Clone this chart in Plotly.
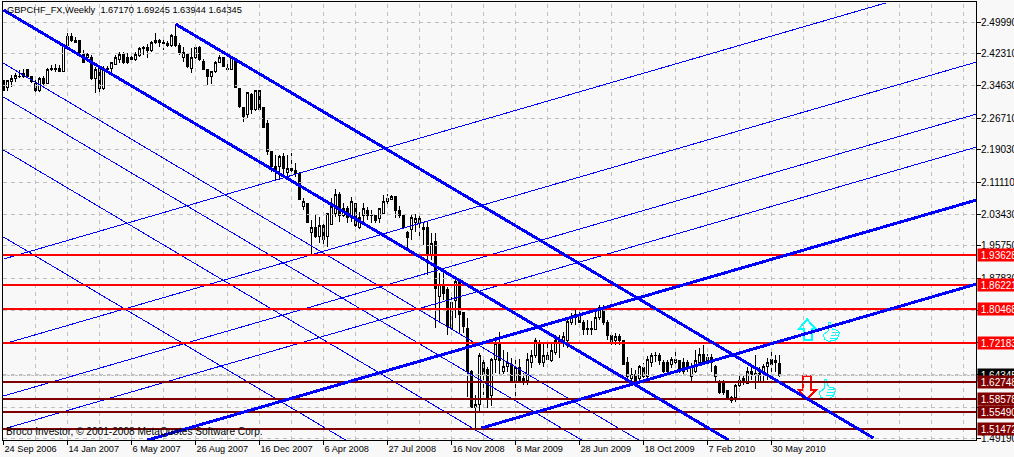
import plotly.graph_objects as go

title_text = "GBPCHF_FX,Weekly  1.67170 1.69245 1.63944 1.64345"
footer_text = "Broco Investor, © 2001-2008 MetaQuotes Software Corp."

opens = [
2.359,2.342,2.355,2.362,2.369,2.367,2.384,2.367,2.352,2.333,
2.362,2.352,2.384,2.388,2.388,2.381,2.444,2.464,2.456,2.454,
2.420,2.413,2.415,2.362,2.388,2.338,2.388,2.388,2.398,2.408,
2.420,2.413,2.415,2.410,2.418,2.437,2.437,2.430,2.456,2.454,
2.451,2.449,2.442,2.466,2.442,2.413,2.422,2.388,2.415,2.437,
2.405,2.384,2.367,2.379,2.403,2.413,2.388,2.386,2.405,2.340,
2.292,2.275,2.325,2.287,2.333,2.292,2.253,2.185,2.151,2.151,
2.173,2.136,2.146,2.141,2.134,2.054,2.059,1.991,2.003,1.979,
2.006,1.979,2.010,2.035,2.083,2.032,2.047,2.027,2.059,2.001,
2.032,2.042,2.032,2.032,2.023,2.037,2.064,2.071,2.076,2.044,
2.032,1.989,1.998,2.013,2.023,2.001,2.003,1.935,1.967,1.836,
1.860,1.851,1.758,1.826,1.870,1.797,1.758,1.652,1.565,1.572,
1.676,1.657,1.594,1.681,1.720,1.652,1.664,1.671,1.632,1.662,
1.635,1.632,1.676,1.691,1.722,1.674,1.693,1.679,1.700,1.725,
1.725,1.729,1.773,1.783,1.792,1.771,1.758,1.758,1.756,1.785,
1.807,1.773,1.741,1.727,1.737,1.727,1.674,1.635,1.647,1.635,
1.662,1.642,1.676,1.693,1.691,1.676,1.674,1.669,1.676,1.679,
1.676,1.674,1.640,1.654,1.674,1.695,1.688,1.688,1.664,1.630,
1.630,1.606,1.591,1.589,1.618,1.635,1.625,1.652,1.649,1.630,
1.649,1.664,1.681,1.679,1.6717]
highs = [
2.359,2.359,2.371,2.376,2.384,2.386,2.386,2.369,2.364,2.367,
2.369,2.388,2.396,2.398,2.396,2.447,2.473,2.473,2.464,2.456,
2.432,2.425,2.420,2.391,2.393,2.393,2.393,2.403,2.420,2.427,
2.427,2.425,2.427,2.427,2.439,2.442,2.447,2.454,2.473,2.459,
2.459,2.454,2.471,2.493,2.449,2.439,2.425,2.437,2.439,2.442,
2.410,2.384,2.379,2.405,2.420,2.415,2.403,2.418,2.408,2.340,
2.294,2.330,2.328,2.335,2.335,2.292,2.262,2.185,2.178,2.178,
2.183,2.178,2.183,2.158,2.136,2.073,2.061,2.020,2.032,2.027,
2.015,2.037,2.073,2.095,2.088,2.061,2.054,2.076,2.059,2.040,
2.061,2.052,2.044,2.032,2.049,2.081,2.083,2.081,2.078,2.054,
2.035,1.993,2.032,2.035,2.032,2.015,2.015,1.989,1.989,1.892,
1.892,1.858,1.834,1.875,1.875,1.797,1.783,1.657,1.596,1.698,
1.686,1.664,1.686,1.737,1.749,1.705,1.700,1.686,1.683,1.683,
1.649,1.698,1.705,1.734,1.729,1.725,1.725,1.725,1.741,1.741,
1.749,1.778,1.795,1.807,1.807,1.778,1.778,1.775,1.802,1.814,
1.814,1.778,1.741,1.746,1.744,1.729,1.688,1.662,1.657,1.669,
1.674,1.691,1.698,1.700,1.698,1.681,1.681,1.688,1.705,1.681,
1.686,1.681,1.674,1.705,1.710,1.717,1.695,1.695,1.669,1.632,
1.632,1.606,1.594,1.623,1.649,1.645,1.664,1.669,1.693,1.664,
1.671,1.686,1.708,1.693,1.69245]
lows = [
2.333,2.333,2.342,2.355,2.364,2.364,2.367,2.352,2.330,2.330,
2.345,2.352,2.381,2.379,2.379,2.379,2.442,2.451,2.449,2.425,
2.401,2.408,2.359,2.328,2.328,2.335,2.379,2.379,2.396,2.401,
2.398,2.398,2.405,2.405,2.415,2.420,2.413,2.427,2.447,2.439,
2.432,2.439,2.439,2.439,2.420,2.403,2.388,2.376,2.410,2.405,
2.384,2.347,2.350,2.376,2.401,2.391,2.381,2.384,2.342,2.292,
2.258,2.267,2.277,2.284,2.284,2.243,2.178,2.136,2.117,2.117,
2.122,2.122,2.129,2.124,2.069,2.044,2.013,1.938,1.977,1.964,
1.955,1.955,2.008,2.027,2.015,2.027,2.013,2.015,2.003,1.998,
2.015,2.020,2.013,2.013,2.013,2.035,2.052,2.069,2.025,2.025,
1.998,1.952,1.972,1.991,1.979,1.960,1.887,1.923,1.758,1.773,
1.826,1.741,1.754,1.783,1.746,1.746,1.591,1.565,1.516,1.553,
1.596,1.565,1.570,1.649,1.645,1.647,1.652,1.628,1.589,1.625,
1.620,1.620,1.662,1.686,1.669,1.664,1.681,1.676,1.693,1.686,
1.712,1.710,1.766,1.766,1.771,1.741,1.741,1.741,1.754,1.778,
1.766,1.729,1.717,1.717,1.717,1.669,1.635,1.628,1.623,1.630,
1.637,1.637,1.664,1.676,1.669,1.649,1.645,1.662,1.666,1.649,
1.647,1.652,1.628,1.649,1.669,1.669,1.662,1.652,1.630,1.599,
1.596,1.584,1.577,1.579,1.615,1.620,1.623,1.632,1.611,1.628,
1.625,1.632,1.640,1.652,1.63944]
closes = [
2.335,2.357,2.362,2.371,2.367,2.376,2.367,2.355,2.333,2.362,
2.352,2.384,2.388,2.384,2.381,2.442,2.464,2.456,2.451,2.427,
2.403,2.422,2.362,2.386,2.340,2.388,2.384,2.401,2.415,2.422,
2.403,2.401,2.410,2.422,2.435,2.435,2.432,2.451,2.451,2.451,
2.447,2.442,2.468,2.442,2.427,2.425,2.391,2.415,2.437,2.408,
2.386,2.367,2.379,2.403,2.413,2.393,2.384,2.413,2.342,2.294,
2.270,2.328,2.287,2.333,2.287,2.245,2.185,2.149,2.141,2.175,
2.146,2.146,2.141,2.132,2.069,2.064,2.015,2.001,1.981,2.006,
1.972,2.035,2.052,2.083,2.032,2.049,2.027,2.066,2.006,2.027,
2.047,2.030,2.030,2.018,2.047,2.064,2.073,2.078,2.042,2.032,
2.003,1.977,2.027,2.025,2.013,1.998,1.940,1.964,1.855,1.863,
1.841,1.761,1.821,1.870,1.792,1.761,1.652,1.565,1.572,1.691,
1.645,1.591,1.681,1.720,1.679,1.664,1.676,1.630,1.662,1.632,
1.632,1.681,1.693,1.727,1.674,1.691,1.683,1.703,1.727,1.729,
1.739,1.775,1.783,1.792,1.773,1.754,1.754,1.754,1.785,1.807,
1.773,1.741,1.725,1.739,1.727,1.671,1.640,1.647,1.632,1.666,
1.642,1.683,1.691,1.691,1.679,1.654,1.654,1.681,1.683,1.659,
1.654,1.662,1.666,1.679,1.695,1.674,1.674,1.674,1.640,1.603,
1.603,1.589,1.584,1.620,1.632,1.628,1.652,1.645,1.645,1.649,
1.664,1.676,1.671,1.674,1.64345]

bars = list(range(len(closes)))

date_tick_bars = [0,16,32,48,64,80,96,112,128,144,160,176,192]
date_tick_labels = ["24 Sep 2006","14 Jan 2007","6 May 2007","26 Aug 2007","16 Dec 2007",
                    "6 Apr 2008","27 Jul 2008","16 Nov 2008","8 Mar 2009","28 Jun 2009",
                    "18 Oct 2009","7 Feb 2010","30 May 2010"]
grid_bars = [8,16,24,32,40,48,56,64,72,80,88,96,104,112,120,128,136,144,152,160,168,176,184,192,200,208,216,224,232,240]
price_ticks = [2.4999,2.4231,2.3463,2.2671,2.1903,2.1111,2.0343,1.9575,1.8783,
               1.8015,1.7223,1.6455,1.5663,1.4919]
price_tick_labels = ["%.5f" % v for v in price_ticks]

red_levels = [1.93628,1.86221,1.80468,1.72183]
maroon_levels = [1.62748,1.58578,1.55490,1.51472]
last_price = 1.64345

thick_channel = [
    ([0,181.25],[2.529,1.4871]),
    ([43,217.5],[2.495,1.4919]),
    ([36,243.25],[1.4871,2.0686]),
    ([119.5,243.25],[1.5161,1.8651]),
]
thin_channel = [
    ([0,220.5],[1.9256,2.546]),
    ([0,243.25],[1.7197,2.403]),
    ([0,243.25],[1.5937,2.277]),
    ([0,243.25],[1.5137,2.197]),
    ([0,158.75],[2.3999,1.4871]),
    ([0,144.5],[2.3182,1.4871]),
    ([0,122.25],[2.1898,1.4871]),
    ([0,85.5],[1.9790,1.4871]),
]

BG = "#F8F8F8"
BLUE = "#0000FF"
FONT = "Liberation Sans"
X_RANGE = [-0.125, 243.125]
Y_RANGE = [1.4871, 2.5484]
GRID = dict(color="#C0C0C0", width=1, dash="4px,4px")

fig = go.Figure()

# Dashed grid: every 8 bars across, at every price tick down.
for b in grid_bars:
    fig.add_trace(go.Scatter(x=[b, b], y=Y_RANGE, mode="lines", line=GRID, hoverinfo="skip"))
for p in price_ticks:
    fig.add_trace(go.Scatter(x=X_RANGE, y=[p, p], mode="lines", line=GRID, hoverinfo="skip"))

fig.add_trace(go.Scatter(x=X_RANGE, y=[last_price,last_price], mode="lines",
    line=dict(color="#C0C0C0", width=1, dash="3px,1px"), hoverinfo="skip"))

fig.add_trace(go.Candlestick(x=bars, open=opens, high=highs, low=lows, close=closes,
    increasing=dict(line=dict(color="#000000", width=1), fillcolor="#FFFFFF"),
    decreasing=dict(line=dict(color="#000000", width=1), fillcolor="#000000"),
    whiskerwidth=0, hoverinfo="skip"))

for xs, ys in thin_channel:
    fig.add_trace(go.Scatter(x=xs, y=ys, mode="lines", line=dict(color=BLUE, width=1), hoverinfo="skip"))
for lvl in red_levels:
    fig.add_trace(go.Scatter(x=X_RANGE, y=[lvl,lvl], mode="lines", line=dict(color="#FF0000", width=2), hoverinfo="skip"))
for lvl in maroon_levels:
    fig.add_trace(go.Scatter(x=X_RANGE, y=[lvl,lvl], mode="lines", line=dict(color="#800000", width=2), hoverinfo="skip"))
for xs, ys in thick_channel:
    fig.add_trace(go.Scatter(x=xs, y=ys, mode="lines", line=dict(color=BLUE, width=3), hoverinfo="skip"))

# Signal icons: drawn in pixels, anchored on a bar/price.
def icon(bar, price, path, color, fill="rgba(0,0,0,0)", width=1.5):
    return dict(type="path", layer="between", xref="x", yref="y",
                xsizemode="pixel", ysizemode="pixel", xanchor=bar, yanchor=price,
                path=path, line=dict(color=color, width=width), fillcolor=fill)

arrow_up = "M 0 0 L 9 -10 L 4.5 -10 L 4.5 -21 L -3.5 -21 L -3.5 -10 L -8.5 -10 Z"
arrow_down = "M -4 0 L 4 0 L 4 -14 L 9 -14 L 0 -23 L -8.5 -14 L -4 -14 Z"
thumb = ("M 5 0 L 7 0 L 8 -4 L 9 -7 L 14 -8 L 16 -10 L 15 -13 L 14 -16 L 11 -18 L 5 -19 "
         "L 1 -17 L 0 -12 L 3 -10 L 5 -8 Z M 8 -10 L 15 -10 M 7 -13 L 15 -13 M 6 -16 L 13 -16")

fig.update_layout(shapes=[
    icon(200.9, 1.7795, arrow_up, "#00FFFF", "#FFFFFF", 2),
    icon(200.9, 1.6422, arrow_down, "#FF0000", "#FFF4F4", 2),
    icon(205, 1.7722, thumb, "#00FFFF", "rgba(0,0,0,0)", 1),
    icon(204, 1.6325, thumb, "#00FFFF", "rgba(0,0,0,0)", 1),
])

annotations = [
    dict(xref="paper", yref="paper", x=0.002, y=0.9817, text=title_text, showarrow=False,
         xanchor="left", yanchor="middle", font=dict(family=FONT, size=9.25, color="#000000")),
    dict(xref="paper", yref="paper", x=0.001, y=0.0205, text=footer_text, showarrow=False,
         xanchor="left", yanchor="middle", font=dict(family=FONT, size=10.1, color="#000000")),
]
def price_box(level, color):
    return dict(xref="paper", yref="y", x=1.0, y=level, text="&nbsp;%.5f" % level, showarrow=False,
                xanchor="left", yanchor="middle", align="left", xshift=1, width=42, height=12,
                bgcolor=color, borderpad=0, font=dict(family=FONT, size=10, color="#FFFFFF"))
annotations.append(price_box(last_price, "#000000"))
annotations += [price_box(v, "#FF0000") for v in red_levels]
annotations += [price_box(v, "#800000") for v in maroon_levels]

fig.update_layout(
    width=1014, height=457, showlegend=False, paper_bgcolor=BG, plot_bgcolor=BG, boxgap=0.5,
    margin=dict(l=3, r=38, t=2, b=17, autoexpand=False),
    annotations=annotations,
    xaxis=dict(range=X_RANGE, tickmode="array", tickvals=date_tick_bars, ticktext=date_tick_labels,
               rangeslider=dict(visible=False), showgrid=False,
               zeroline=False, showline=True, linecolor="#000000", linewidth=1, mirror=True,
               ticks="outside", ticklen=4, tickcolor="#000000", ticklabelposition="outside right", tickangle=0,
               tickfont=dict(family=FONT, size=9.2, color="#000000")),
    yaxis=dict(range=Y_RANGE, side="right", tickmode="array", tickvals=price_ticks, ticktext=price_tick_labels,
               showgrid=False,
               zeroline=False, showline=True, linecolor="#000000", linewidth=1, mirror=True,
               ticks="outside", ticklen=4, tickcolor="#000000", ticklabelstandoff=-2,
               tickfont=dict(family=FONT, size=10, color="#000000")),
)

fig.write_html("out.html", config=dict(displayModeBar=False),
               post_script="document.body.style.margin='0';document.body.style.overflow='hidden';"
                           "document.head.insertAdjacentHTML('beforeend','<style>.main-svg path{shape-rendering:crispEdges}</style>');")
